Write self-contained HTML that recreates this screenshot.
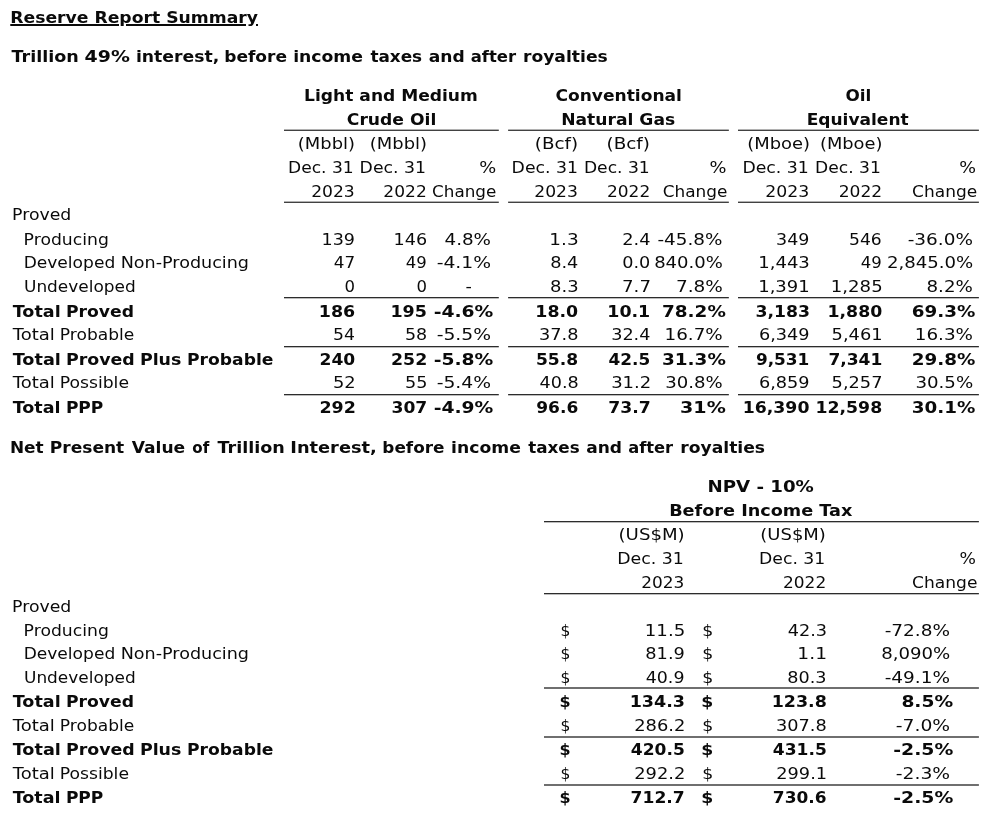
<!DOCTYPE html>
<html lang="en"><head><meta charset="utf-8"><title>Reserve Report Summary</title>
<style>
html,body{margin:0;padding:0;background:#fff}
body{width:997px;height:816px;overflow:hidden;position:relative;font-family:"DejaVu Sans","Liberation Sans",sans-serif;font-size:16px;line-height:20px;color:#0a0a0a}
.t{position:absolute;left:0;white-space:pre;transform-origin:0 0;margin:0;padding:0}
.b{font-weight:bold}
.u{text-decoration:underline;text-decoration-thickness:2px;text-underline-offset:1px;text-decoration-skip-ink:auto}
.clip{position:absolute;left:0;top:26px;width:300px;height:6px;background:#fff}
svg{position:absolute;left:0;top:0}
</style></head><body>
<svg width="997" height="816" viewBox="0 0 997 816" fill="#222">
<rect x="284.00" y="129.65" width="214.80" height="1.20"/>
<rect x="508.10" y="129.65" width="220.75" height="1.20"/>
<rect x="738.00" y="129.65" width="240.90" height="1.20"/>
<rect x="284.00" y="201.65" width="214.80" height="1.20"/>
<rect x="508.10" y="201.65" width="220.75" height="1.20"/>
<rect x="738.00" y="201.65" width="240.90" height="1.20"/>
<rect x="284.00" y="297.05" width="214.80" height="1.25"/>
<rect x="508.10" y="297.05" width="220.75" height="1.25"/>
<rect x="738.00" y="297.05" width="240.90" height="1.25"/>
<rect x="284.00" y="346.05" width="214.80" height="1.25"/>
<rect x="508.10" y="346.05" width="220.75" height="1.25"/>
<rect x="738.00" y="346.05" width="240.90" height="1.25"/>
<rect x="284.00" y="394.05" width="214.80" height="1.25"/>
<rect x="508.10" y="394.05" width="220.75" height="1.25"/>
<rect x="738.00" y="394.05" width="240.90" height="1.25"/>
<rect x="544.00" y="521.05" width="434.90" height="1.25"/>
<rect x="544.00" y="593.05" width="434.90" height="1.25"/>
<rect x="544.00" y="687.35" width="434.90" height="1.30"/>
<rect x="544.00" y="736.35" width="434.90" height="1.30"/>
<rect x="544.00" y="784.35" width="434.90" height="1.30"/>
</svg>
<div class="row">
<span class="t b u" style="top:8px;transform:translateX(10.27px) scaleX(1.0753)">Reserve Report Summary</span>
</div>
<div class="row">
<span class="t b" style="top:47px;transform:translateX(11.47px) scaleX(1.0972)">Trillion</span>
<span class="t b" style="top:47px;transform:translateX(84.61px) scaleX(1.1820)">49%</span>
<span class="t b" style="top:47px;transform:translateX(135.96px) scaleX(1.0764)">interest,</span>
<span class="t b" style="top:47px;transform:translateX(224.20px) scaleX(1.0645)">before</span>
<span class="t b" style="top:47px;transform:translateX(293.13px) scaleX(1.0760)">income</span>
<span class="t b" style="top:47px;transform:translateX(370.38px) scaleX(1.0528)">taxes</span>
<span class="t b" style="top:47px;transform:translateX(428.70px) scaleX(1.0691)">and</span>
<span class="t b" style="top:47px;transform:translateX(470.67px) scaleX(1.0263)">after</span>
<span class="t b" style="top:47px;transform:translateX(522.93px) scaleX(1.0727)">royalties</span>
</div>
<div class="row">
<span class="t b" style="top:86px;transform:translateX(304.12px) scaleX(1.0675)">Light and Medium</span>
<span class="t b" style="top:86px;transform:translateX(555.41px) scaleX(1.0668)">Conventional</span>
<span class="t b" style="top:86px;transform:translateX(845.47px) scaleX(1.0526)">Oil</span>
</div>
<div class="row">
<span class="t b" style="top:110px;transform:translateX(346.79px) scaleX(1.0727)">Crude Oil</span>
<span class="t b" style="top:110px;transform:translateX(561.23px) scaleX(1.0705)">Natural Gas</span>
<span class="t b" style="top:110px;transform:translateX(806.68px) scaleX(1.0638)">Equivalent</span>
</div>
<div class="row">
<span class="t" style="top:134px;transform:translateX(297.86px) scaleX(1.1184)">(Mbbl)</span>
<span class="t" style="top:134px;transform:translateX(369.86px) scaleX(1.1184)">(Mbbl)</span>
<span class="t" style="top:134px;transform:translateX(534.87px) scaleX(1.1403)">(Bcf)</span>
<span class="t" style="top:134px;transform:translateX(606.53px) scaleX(1.1431)">(Bcf)</span>
<span class="t" style="top:134px;transform:translateX(747.24px) scaleX(1.1196)">(Mboe)</span>
<span class="t" style="top:134px;transform:translateX(819.96px) scaleX(1.1137)">(Mboe)</span>
</div>
<div class="row">
<span class="t" style="top:158px;transform:translateX(288.02px) scaleX(1.0686)">Dec. 31</span>
<span class="t" style="top:158px;transform:translateX(359.62px) scaleX(1.0784)">Dec. 31</span>
<span class="t" style="top:158px;transform:translateX(479.26px) scaleX(1.1159)">%</span>
<span class="t" style="top:158px;transform:translateX(511.62px) scaleX(1.0793)">Dec. 31</span>
<span class="t" style="top:158px;transform:translateX(583.92px) scaleX(1.0700)">Dec. 31</span>
<span class="t" style="top:158px;transform:translateX(709.54px) scaleX(1.1159)">%</span>
<span class="t" style="top:158px;transform:translateX(742.41px) scaleX(1.0800)">Dec. 31</span>
<span class="t" style="top:158px;transform:translateX(815.07px) scaleX(1.0694)">Dec. 31</span>
<span class="t" style="top:158px;transform:translateX(959.28px) scaleX(1.1025)">%</span>
</div>
<div class="row">
<span class="t" style="top:182px;transform:translateX(311.18px) scaleX(1.0700)">2023</span>
<span class="t" style="top:182px;transform:translateX(383.37px) scaleX(1.0650)">2022</span>
<span class="t" style="top:182px;transform:translateX(432.08px) scaleX(1.0488)">Change</span>
<span class="t" style="top:182px;transform:translateX(534.31px) scaleX(1.0710)">2023</span>
<span class="t" style="top:182px;transform:translateX(607.00px) scaleX(1.0605)">2022</span>
<span class="t" style="top:182px;transform:translateX(662.67px) scaleX(1.0553)">Change</span>
<span class="t" style="top:182px;transform:translateX(765.30px) scaleX(1.0800)">2023</span>
<span class="t" style="top:182px;transform:translateX(838.67px) scaleX(1.0679)">2022</span>
<span class="t" style="top:182px;transform:translateX(912.12px) scaleX(1.0613)">Change</span>
</div>
<div class="row">
<span class="t" style="top:205px;transform:translateX(12.06px) scaleX(1.0800)">Proved</span>
</div>
<div class="row">
<span class="t" style="top:230px;transform:translateX(23.62px) scaleX(1.0754)">Producing</span>
<span class="t" style="top:230px;transform:translateX(321.58px) scaleX(1.0943)">139</span>
<span class="t" style="top:230px;transform:translateX(393.57px) scaleX(1.0971)">146</span>
<span class="t" style="top:230px;transform:translateX(444.48px) scaleX(1.1448)">4.8%</span>
<span class="t" style="top:230px;transform:translateX(549.37px) scaleX(1.1495)">1.3</span>
<span class="t" style="top:230px;transform:translateX(622.23px) scaleX(1.1073)">2.4</span>
<span class="t" style="top:230px;transform:translateX(657.40px) scaleX(1.1474)">-45.8%</span>
<span class="t" style="top:230px;transform:translateX(776.08px) scaleX(1.0899)">349</span>
<span class="t" style="top:230px;transform:translateX(849.09px) scaleX(1.0693)">546</span>
<span class="t" style="top:230px;transform:translateX(907.69px) scaleX(1.1526)">-36.0%</span>
</div>
<div class="row">
<span class="t" style="top:253px;transform:translateX(23.63px) scaleX(1.0665)">Developed</span>
<span class="t" style="top:253px;transform:translateX(120.64px) scaleX(1.0981)">Non-Producing</span>
<span class="t" style="top:253px;transform:translateX(333.81px) scaleX(1.0476)">47</span>
<span class="t" style="top:253px;transform:translateX(405.81px) scaleX(1.0317)">49</span>
<span class="t" style="top:253px;transform:translateX(436.67px) scaleX(1.1715)">-4.1%</span>
<span class="t" style="top:253px;transform:translateX(550.15px) scaleX(1.1056)">8.4</span>
<span class="t" style="top:253px;transform:translateX(622.27px) scaleX(1.1019)">0.0</span>
<span class="t" style="top:253px;transform:translateX(654.14px) scaleX(1.1248)">840.0%</span>
<span class="t" style="top:253px;transform:translateX(758.22px) scaleX(1.1263)">1,443</span>
<span class="t" style="top:253px;transform:translateX(860.79px) scaleX(1.0317)">49</span>
<span class="t" style="top:253px;transform:translateX(887.08px) scaleX(1.1304)">2,845.0%</span>
</div>
<div class="row">
<span class="t" style="top:277px;transform:translateX(23.99px) scaleX(1.0579)">Undeveloped</span>
<span class="t" style="top:277px;transform:translateX(344.58px) scaleX(1.0305)">0</span>
<span class="t" style="top:277px;transform:translateX(416.58px) scaleX(1.0305)">0</span>
<span class="t" style="top:277px;transform:translateX(465.56px) scaleX(1.1020)">-</span>
<span class="t" style="top:277px;transform:translateX(550.11px) scaleX(1.1206)">8.3</span>
<span class="t" style="top:277px;transform:translateX(622.06px) scaleX(1.1351)">7.7</span>
<span class="t" style="top:277px;transform:translateX(676.00px) scaleX(1.1538)">7.8%</span>
<span class="t" style="top:277px;transform:translateX(758.20px) scaleX(1.1244)">1,391</span>
<span class="t" style="top:277px;transform:translateX(830.83px) scaleX(1.1313)">1,285</span>
<span class="t" style="top:277px;transform:translateX(926.50px) scaleX(1.1400)">8.2%</span>
</div>
<div class="row">
<span class="t b" style="top:302px;transform:translateX(12.67px) scaleX(1.0978)">Total</span>
<span class="t b" style="top:302px;transform:translateX(65.93px) scaleX(1.0737)">Proved</span>
<span class="t b" style="top:302px;transform:translateX(318.83px) scaleX(1.0899)">186</span>
<span class="t b" style="top:302px;transform:translateX(390.43px) scaleX(1.0943)">195</span>
<span class="t b" style="top:302px;transform:translateX(433.71px) scaleX(1.1692)">-4.6%</span>
<span class="t b" style="top:302px;transform:translateX(535.33px) scaleX(1.0844)">18.0</span>
<span class="t b" style="top:302px;transform:translateX(607.30px) scaleX(1.0875)">10.1</span>
<span class="t b" style="top:302px;transform:translateX(662.02px) scaleX(1.1491)">78.2%</span>
<span class="t b" style="top:302px;transform:translateX(755.54px) scaleX(1.0766)">3,183</span>
<span class="t b" style="top:302px;transform:translateX(827.45px) scaleX(1.0823)">1,880</span>
<span class="t b" style="top:302px;transform:translateX(911.85px) scaleX(1.1444)">69.3%</span>
</div>
<div class="row">
<span class="t" style="top:325px;transform:translateX(12.74px) scaleX(1.1236)">Total</span>
<span class="t" style="top:325px;transform:translateX(59.85px) scaleX(1.0663)">Probable</span>
<span class="t" style="top:325px;transform:translateX(333.04px) scaleX(1.0755)">54</span>
<span class="t" style="top:325px;transform:translateX(405.02px) scaleX(1.0905)">58</span>
<span class="t" style="top:325px;transform:translateX(436.67px) scaleX(1.1715)">-5.5%</span>
<span class="t" style="top:325px;transform:translateX(539.05px) scaleX(1.1036)">37.8</span>
<span class="t" style="top:325px;transform:translateX(611.20px) scaleX(1.1010)">32.4</span>
<span class="t" style="top:325px;transform:translateX(664.56px) scaleX(1.1451)">16.7%</span>
<span class="t" style="top:325px;transform:translateX(758.98px) scaleX(1.1058)">6,349</span>
<span class="t" style="top:325px;transform:translateX(831.61px) scaleX(1.1123)">5,461</span>
<span class="t" style="top:325px;transform:translateX(914.73px) scaleX(1.1457)">16.3%</span>
</div>
<div class="row">
<span class="t b" style="top:350px;transform:translateX(12.66px) scaleX(1.1032)">Total</span>
<span class="t b" style="top:350px;transform:translateX(65.97px) scaleX(1.0856)">Proved</span>
<span class="t b" style="top:350px;transform:translateX(139.89px) scaleX(1.0877)">Plus</span>
<span class="t b" style="top:350px;transform:translateX(187.05px) scaleX(1.0708)">Probable</span>
<span class="t b" style="top:350px;transform:translateX(319.55px) scaleX(1.0691)">240</span>
<span class="t b" style="top:350px;transform:translateX(391.02px) scaleX(1.0828)">252</span>
<span class="t b" style="top:350px;transform:translateX(433.71px) scaleX(1.1692)">-5.8%</span>
<span class="t b" style="top:350px;transform:translateX(535.92px) scaleX(1.0684)">55.8</span>
<span class="t b" style="top:350px;transform:translateX(608.55px) scaleX(1.0547)">42.5</span>
<span class="t b" style="top:350px;transform:translateX(662.02px) scaleX(1.1491)">31.3%</span>
<span class="t b" style="top:350px;transform:translateX(755.94px) scaleX(1.0554)">9,531</span>
<span class="t b" style="top:350px;transform:translateX(828.40px) scaleX(1.0649)">7,341</span>
<span class="t b" style="top:350px;transform:translateX(911.79px) scaleX(1.1444)">29.8%</span>
</div>
<div class="row">
<span class="t" style="top:373px;transform:translateX(12.74px) scaleX(1.1216)">Total</span>
<span class="t" style="top:373px;transform:translateX(59.72px) scaleX(1.0747)">Possible</span>
<span class="t" style="top:373px;transform:translateX(332.97px) scaleX(1.1150)">52</span>
<span class="t" style="top:373px;transform:translateX(405.01px) scaleX(1.0992)">55</span>
<span class="t" style="top:373px;transform:translateX(436.67px) scaleX(1.1715)">-5.4%</span>
<span class="t" style="top:373px;transform:translateX(539.59px) scaleX(1.0975)">40.8</span>
<span class="t" style="top:373px;transform:translateX(611.14px) scaleX(1.1254)">31.2</span>
<span class="t" style="top:373px;transform:translateX(665.31px) scaleX(1.1294)">30.8%</span>
<span class="t" style="top:373px;transform:translateX(758.98px) scaleX(1.1058)">6,859</span>
<span class="t" style="top:373px;transform:translateX(831.61px) scaleX(1.1103)">5,257</span>
<span class="t" style="top:373px;transform:translateX(915.41px) scaleX(1.1369)">30.5%</span>
</div>
<div class="row">
<span class="t b" style="top:398px;transform:translateX(12.67px) scaleX(1.0945)">Total</span>
<span class="t b" style="top:398px;transform:translateX(65.88px) scaleX(1.0640)">PPP</span>
<span class="t b" style="top:398px;transform:translateX(319.47px) scaleX(1.0911)">292</span>
<span class="t b" style="top:398px;transform:translateX(391.49px) scaleX(1.0712)">307</span>
<span class="t b" style="top:398px;transform:translateX(433.71px) scaleX(1.1692)">-4.9%</span>
<span class="t b" style="top:398px;transform:translateX(536.25px) scaleX(1.0640)">96.6</span>
<span class="t b" style="top:398px;transform:translateX(608.32px) scaleX(1.0756)">73.7</span>
<span class="t b" style="top:398px;transform:translateX(680.09px) scaleX(1.1919)">31%</span>
<span class="t b" style="top:398px;transform:translateX(742.70px) scaleX(1.0808)">16,390</span>
<span class="t b" style="top:398px;transform:translateX(815.48px) scaleX(1.0800)">12,598</span>
<span class="t b" style="top:398px;transform:translateX(911.83px) scaleX(1.1444)">30.1%</span>
</div>
<div class="row">
<span class="t b" style="top:438px;transform:translateX(9.89px) scaleX(1.0564)">Net</span>
<span class="t b" style="top:438px;transform:translateX(49.77px) scaleX(1.0656)">Present</span>
<span class="t b" style="top:438px;transform:translateX(131.73px) scaleX(1.0685)">Value</span>
<span class="t b" style="top:438px;transform:translateX(192.28px) scaleX(0.9425)">of</span>
<span class="t b" style="top:438px;transform:translateX(217.45px) scaleX(1.0983)">Trillion</span>
<span class="t b" style="top:438px;transform:translateX(290.27px) scaleX(1.1116)">Interest,</span>
<span class="t b" style="top:438px;transform:translateX(382.34px) scaleX(1.0529)">before</span>
<span class="t b" style="top:438px;transform:translateX(451.11px) scaleX(1.0740)">income</span>
<span class="t b" style="top:438px;transform:translateX(528.19px) scaleX(1.0477)">taxes</span>
<span class="t b" style="top:438px;transform:translateX(586.23px) scaleX(1.0651)">and</span>
<span class="t b" style="top:438px;transform:translateX(628.14px) scaleX(1.0180)">after</span>
<span class="t b" style="top:438px;transform:translateX(680.24px) scaleX(1.0726)">royalties</span>
</div>
<div class="row">
<span class="t b" style="top:477px;transform:translateX(707.42px) scaleX(1.1373)">NPV - 10%</span>
</div>
<div class="row">
<span class="t b" style="top:501px;transform:translateX(669.15px) scaleX(1.1022)">Before Income Tax</span>
</div>
<div class="row">
<span class="t" style="top:525px;transform:translateX(618.55px) scaleX(1.1325)">(US$M)</span>
<span class="t" style="top:525px;transform:translateX(760.29px) scaleX(1.1240)">(US$M)</span>
</div>
<div class="row">
<span class="t" style="top:549px;transform:translateX(617.21px) scaleX(1.0839)">Dec. 31</span>
<span class="t" style="top:549px;transform:translateX(759.07px) scaleX(1.0760)">Dec. 31</span>
<span class="t" style="top:549px;transform:translateX(959.56px) scaleX(1.0800)">%</span>
</div>
<div class="row">
<span class="t" style="top:573px;transform:translateX(641.19px) scaleX(1.0575)">2023</span>
<span class="t" style="top:573px;transform:translateX(783.00px) scaleX(1.0605)">2022</span>
<span class="t" style="top:573px;transform:translateX(912.07px) scaleX(1.0660)">Change</span>
</div>
<div class="row">
<span class="t" style="top:597px;transform:translateX(12.06px) scaleX(1.0800)">Proved</span>
</div>
<div class="row">
<span class="t" style="top:621px;transform:translateX(23.62px) scaleX(1.0754)">Producing</span>
<span class="t" style="top:621px;transform:translateX(560.60px) scaleX(0.9689)">$</span>
<span class="t" style="top:621px;transform:translateX(644.83px) scaleX(1.1341)">11.5</span>
<span class="t" style="top:621px;transform:translateX(702.35px) scaleX(1.0800)">$</span>
<span class="t" style="top:621px;transform:translateX(787.71px) scaleX(1.1047)">42.3</span>
<span class="t" style="top:621px;transform:translateX(884.70px) scaleX(1.1539)">-72.8%</span>
</div>
<div class="row">
<span class="t" style="top:644px;transform:translateX(23.63px) scaleX(1.0665)">Developed</span>
<span class="t" style="top:644px;transform:translateX(120.64px) scaleX(1.0981)">Non-Producing</span>
<span class="t" style="top:644px;transform:translateX(560.60px) scaleX(0.9689)">$</span>
<span class="t" style="top:644px;transform:translateX(645.31px) scaleX(1.1091)">81.9</span>
<span class="t" style="top:644px;transform:translateX(702.35px) scaleX(1.0800)">$</span>
<span class="t" style="top:644px;transform:translateX(797.36px) scaleX(1.1644)">1.1</span>
<span class="t" style="top:644px;transform:translateX(881.18px) scaleX(1.1316)">8,090%</span>
</div>
<div class="row">
<span class="t" style="top:668px;transform:translateX(23.99px) scaleX(1.0579)">Undeveloped</span>
<span class="t" style="top:668px;transform:translateX(560.60px) scaleX(0.9689)">$</span>
<span class="t" style="top:668px;transform:translateX(645.72px) scaleX(1.0870)">40.9</span>
<span class="t" style="top:668px;transform:translateX(702.35px) scaleX(1.0800)">$</span>
<span class="t" style="top:668px;transform:translateX(787.30px) scaleX(1.0998)">80.3</span>
<span class="t" style="top:668px;transform:translateX(884.70px) scaleX(1.1539)">-49.1%</span>
</div>
<div class="row">
<span class="t b" style="top:692px;transform:translateX(12.67px) scaleX(1.0978)">Total</span>
<span class="t b" style="top:692px;transform:translateX(65.93px) scaleX(1.0737)">Proved</span>
<span class="t b" style="top:692px;transform:translateX(559.43px) scaleX(0.9987)">$</span>
<span class="t b" style="top:692px;transform:translateX(629.64px) scaleX(1.0939)">134.3</span>
<span class="t b" style="top:692px;transform:translateX(701.20px) scaleX(1.0785)">$</span>
<span class="t b" style="top:692px;transform:translateX(771.67px) scaleX(1.0892)">123.8</span>
<span class="t b" style="top:692px;transform:translateX(901.40px) scaleX(1.1647)">8.5%</span>
</div>
<div class="row">
<span class="t" style="top:716px;transform:translateX(12.74px) scaleX(1.1236)">Total</span>
<span class="t" style="top:716px;transform:translateX(59.85px) scaleX(1.0663)">Probable</span>
<span class="t" style="top:716px;transform:translateX(560.60px) scaleX(0.9689)">$</span>
<span class="t" style="top:716px;transform:translateX(634.25px) scaleX(1.1154)">286.2</span>
<span class="t" style="top:716px;transform:translateX(702.35px) scaleX(1.0800)">$</span>
<span class="t" style="top:716px;transform:translateX(776.07px) scaleX(1.1053)">307.8</span>
<span class="t" style="top:716px;transform:translateX(895.77px) scaleX(1.1700)">-7.0%</span>
</div>
<div class="row">
<span class="t b" style="top:740px;transform:translateX(12.66px) scaleX(1.1032)">Total</span>
<span class="t b" style="top:740px;transform:translateX(65.97px) scaleX(1.0856)">Proved</span>
<span class="t b" style="top:740px;transform:translateX(139.89px) scaleX(1.0877)">Plus</span>
<span class="t b" style="top:740px;transform:translateX(187.05px) scaleX(1.0708)">Probable</span>
<span class="t b" style="top:740px;transform:translateX(559.43px) scaleX(0.9987)">$</span>
<span class="t b" style="top:740px;transform:translateX(630.87px) scaleX(1.0654)">420.5</span>
<span class="t b" style="top:740px;transform:translateX(701.20px) scaleX(1.0785)">$</span>
<span class="t b" style="top:740px;transform:translateX(772.87px) scaleX(1.0654)">431.5</span>
<span class="t b" style="top:740px;transform:translateX(893.22px) scaleX(1.1768)">-2.5%</span>
</div>
<div class="row">
<span class="t" style="top:764px;transform:translateX(12.74px) scaleX(1.1216)">Total</span>
<span class="t" style="top:764px;transform:translateX(59.72px) scaleX(1.0747)">Possible</span>
<span class="t" style="top:764px;transform:translateX(560.60px) scaleX(0.9689)">$</span>
<span class="t" style="top:764px;transform:translateX(634.25px) scaleX(1.1154)">292.2</span>
<span class="t" style="top:764px;transform:translateX(702.35px) scaleX(1.0800)">$</span>
<span class="t" style="top:764px;transform:translateX(776.27px) scaleX(1.1088)">299.1</span>
<span class="t" style="top:764px;transform:translateX(895.77px) scaleX(1.1700)">-2.3%</span>
</div>
<div class="row">
<span class="t b" style="top:788px;transform:translateX(12.67px) scaleX(1.0945)">Total</span>
<span class="t b" style="top:788px;transform:translateX(65.88px) scaleX(1.0640)">PPP</span>
<span class="t b" style="top:788px;transform:translateX(559.43px) scaleX(0.9987)">$</span>
<span class="t b" style="top:788px;transform:translateX(630.58px) scaleX(1.0695)">712.7</span>
<span class="t b" style="top:788px;transform:translateX(701.20px) scaleX(1.0785)">$</span>
<span class="t b" style="top:788px;transform:translateX(772.83px) scaleX(1.0597)">730.6</span>
<span class="t b" style="top:788px;transform:translateX(893.22px) scaleX(1.1768)">-2.5%</span>
</div>
<div class="clip"></div>
</body></html>
